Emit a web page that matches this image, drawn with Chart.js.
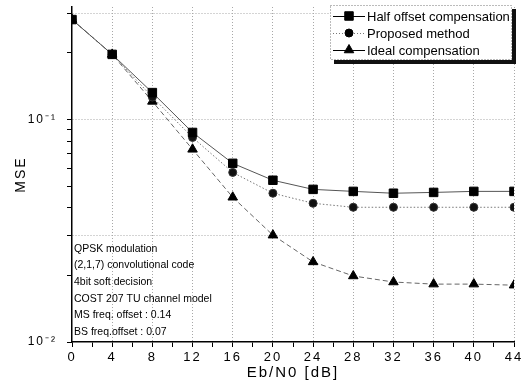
<!DOCTYPE html>
<html>
<head>
<meta charset="utf-8">
<script src="https://cdn.jsdelivr.net/npm/chart.js@4/dist/chart.umd.min.js"></script>
<style>
html,body{margin:0;padding:0;background:#fff;}
#wrap{width:524px;height:392px;position:relative;}
</style>
</head>
<body>
<div id="wrap"><canvas id="c" width="524" height="392"></canvas></div>
<script>
// ---- data ----
const ebn0 = [0, 4, 8, 12, 16, 20, 24, 28, 32, 36, 40, 44];
const halfOffset = [0.281, 0.196, 0.132, 0.0874, 0.0635, 0.0533, 0.0485, 0.0475, 0.0466, 0.047, 0.0475, 0.0475];
const proposed   = [0.281, 0.196, 0.126, 0.083, 0.0578, 0.0466, 0.042, 0.0403, 0.0403, 0.0403, 0.0403, 0.0403];
const ideal      = [0.281, 0.196, 0.1205, 0.0734, 0.0447, 0.0302, 0.0229, 0.0198, 0.0186, 0.0182, 0.0182, 0.018];
const seriesNames = ['Half offset compensation', 'Proposed method', 'Ideal compensation'];
const xLabelStep = 4;
const yTickValues = [0.01, 0.02, 0.03, 0.04, 0.05, 0.06, 0.07, 0.08, 0.09, 0.1, 0.2, 0.3];
const yTickLabels = ['10⁻²', '', '', '', '', '', '', '', '', '10⁻¹', '', ''];
const yGridValues = [0.03, 0.1, 0.3];
const xTitle = 'Eb/N0 [dB]';
const yTitle = 'MSE';
const notes = [
  'QPSK modulation',
  '(2,1,7) convolutional code',
  '4bit soft decision',
  'COST 207 TU channel model',
  'MS freq. offset : 0.14',
  'BS freq.offset : 0.07'
];

const FONT = '"Liberation Sans", Arial, sans-serif';
const toXY = (ys) => ebn0.map((x, i) => ({x: x, y: ys[i]}));

const spacingPlugin = {
  id: 'spacing',
  beforeDraw(chart) { chart.ctx.letterSpacing = '2px'; },
  beforeDatasetsDraw(chart) { chart.ctx.letterSpacing = '0px'; }
};

const legendPlugin = {
  id: 'boxLegend',
  afterDraw(chart) {
    const ctx = chart.ctx;
    const ca = chart.chartArea;
    ctx.save();
    ctx.letterSpacing = '0px';
    const R = ca.right - 2, L = R - 182, T = ca.top - 2, B = T + 55;
    ctx.fillStyle = '#111';
    ctx.fillRect(L + 4, T + 4, R - L, B - T);
    ctx.fillStyle = '#fff';
    ctx.fillRect(L, T, R - L, B - T);
    ctx.strokeStyle = '#777';
    ctx.lineWidth = 1;
    ctx.setLineDash([1, 2]);
    ctx.strokeRect(L + 0.5, T + 0.5, R - L - 1, B - T - 1);
    chart.data.datasets.forEach((ds, i) => {
      const y = T + 11 + i * 17;
      ctx.setLineDash(ds.legendDash || []);
      ctx.strokeStyle = ds.legendColor;
      ctx.lineWidth = 1;
      ctx.beginPath();
      ctx.moveTo(L + 3, y + 0.5);
      ctx.lineTo(L + 35, y + 0.5);
      ctx.stroke();
      ctx.setLineDash([]);
      ctx.fillStyle = '#000';
      ctx.strokeStyle = '#000';
      Chart.helpers.drawPoint(ctx, {pointStyle: ds.pointStyle, radius: ds.pointRadius, rotation: 0, borderWidth: 1}, L + 19, y);
      ctx.fillStyle = '#000';
      ctx.font = '13px ' + FONT;
      ctx.textBaseline = 'middle';
      ctx.textAlign = 'left';
      ctx.fillText(ds.label, L + 37, y + 1);
    });
    // notes
    ctx.font = '10.5px ' + FONT;
    ctx.fillStyle = '#000';
    ctx.textBaseline = 'middle';
    ctx.textAlign = 'left';
    notes.forEach((t, i) => {
      const y = ca.bottom - 10 - (notes.length - 1 - i) * 16.6;
      ctx.fillText(t, ca.left + 2, y);
    });
    ctx.restore();
  }
};

new Chart(document.getElementById('c'), {
  type: 'line',
  data: {
    datasets: [
      {label: seriesNames[0], data: toXY(halfOffset), borderColor: '#555', borderWidth: 1,
       pointStyle: 'rect', pointRadius: 6, pointBackgroundColor: '#000', pointBorderColor: '#000',
       legendColor: '#000', legendDash: []},
      {label: seriesNames[1], data: toXY(proposed), borderColor: '#777', borderWidth: 1, borderDash: [1.5, 2],
       pointStyle: 'circle', pointRadius: 4, pointBackgroundColor: '#111', pointBorderColor: '#333',
       legendColor: '#777', legendDash: [1, 2]},
      {label: seriesNames[2], data: toXY(ideal), borderColor: '#666', borderWidth: 1, borderDash: [5, 3],
       pointStyle: 'triangle', pointRadius: 5.5, pointBackgroundColor: '#000', pointBorderColor: '#000',
       legendColor: '#000', legendDash: []}
    ]
  },
  options: {
    responsive: false,
    animation: false,
    devicePixelRatio: 1,
    layout: {padding: {top: 7, right: 10, left: 0, bottom: 0}},
    plugins: {legend: {display: false}, tooltip: {enabled: false}},
    elements: {line: {tension: 0}},
    scales: {
      x: {
        type: 'linear',
        min: 0, max: 44,
        afterFit(s) { s.height = 50; s.paddingLeft = 0; s.paddingRight = 0; },
        ticks: {
          stepSize: 2, autoSkip: false, maxRotation: 0, padding: 3,
          color: '#000', font: {family: FONT, size: 13},
          callback: (v) => (v % xLabelStep === 0 ? String(v) : '')
        },
        grid: {
          drawOnChartArea: true, drawTicks: true, tickLength: 5,
          color: (c) => (c.tick && c.tick.value % xLabelStep === 0 && c.tick.value > 0 ? '#a8a8a8' : 'rgba(0,0,0,0)'),
          tickColor: '#000', tickWidth: 1, lineWidth: 1
        },
        border: {display: true, color: '#000', width: 1.5, dash: [1, 2]},
        title: {display: true, text: xTitle, color: '#000', font: {family: FONT, size: 15}, padding: {top: 0, bottom: 10}}
      },
      y: {
        type: 'logarithmic',
        min: 0.01, max: 0.32,
        afterFit(s) { s.width = 72; s.paddingTop = 0; s.paddingBottom = 0; },
        afterBuildTicks(s) { s.ticks = yTickValues.map(v => ({value: v})); },
        ticks: {
          autoSkip: false, padding: 10, color: '#000', font: {family: FONT, size: 12},
          callback: (v) => {
            const i = yTickValues.findIndex(t => Math.abs(t - v) < 1e-9);
            return i >= 0 ? yTickLabels[i] : '';
          }
        },
        grid: {
          drawOnChartArea: true, drawTicks: true, tickLength: 5,
          color: (c) => (c.tick && yGridValues.some(g => Math.abs(g - c.tick.value) < 1e-9) ? '#a8a8a8' : 'rgba(0,0,0,0)'),
          tickColor: '#000', tickWidth: 1, lineWidth: 1
        },
        border: {display: true, color: '#000', width: 1.5, dash: [1, 2]},
        title: {display: true, text: yTitle, color: '#000', font: {family: FONT, size: 14}, padding: {top: 13, bottom: 0}}
      }
    }
  },
  plugins: [spacingPlugin, legendPlugin]
});
</script>
</body>
</html>
